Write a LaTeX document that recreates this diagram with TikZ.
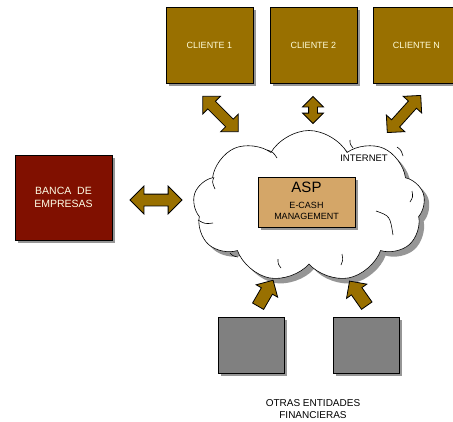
\documentclass[tikz,border=0pt]{standalone}
\usepackage{fontspec}
\setmainfont{Liberation Sans}
\usetikzlibrary{shapes.symbols,shapes.arrows,shadows}
\definecolor{cliente}{RGB}{153,112,0}
\definecolor{banca}{RGB}{128,16,0}
\definecolor{asp}{RGB}{212,166,104}
\definecolor{entidad}{RGB}{128,128,128}
\definecolor{sombra}{RGB}{150,150,150}

\begin{document}
\begin{tikzpicture}[x = 1pt, y = 1pt, line width = 0.8pt,
                        caja/.style = {rectangle, draw, inner sep = 0pt, align = center,
                                       drop shadow = {shadow xshift = 3pt, shadow yshift = -3pt, fill = sombra, opacity = 1}},
                        cliente/.style = {caja, fill = cliente, text = white!85!yellow, minimum width = 87pt, minimum height = 76pt, font = \fontsize{9}{11}\selectfont},
                        entidad/.style = {caja, fill = entidad, minimum width = 66pt, minimum height = 56pt},
                        flecha/.style = {double arrow, draw, fill = cliente, inner sep = 5pt, double arrow head extend = 7pt},
                        subida/.style = {single arrow, draw, fill = cliente, inner sep = 6pt, single arrow head extend = 6pt},
                        pliegue/.style = {line width = 0.6pt}]
      \useasboundingbox (0, 0) rectangle (453, -421);

      \node [cliente] (c1) at (209.5, -45){CLIENTE 1};
      \node [cliente] (c2) at (313.5, -45){CLIENTE 2};
      \node [cliente] (cn) at (416.5, -45){CLIENTE N};

      \node [caja, fill = banca, text = white!90!yellow, minimum width = 97pt, minimum height = 85pt,
             font = \fontsize{10.5}{13}\selectfont] (banca) at (63.5, -197.5){BANCA \ DE\\EMPRESAS};

      \node [cloud, draw, fill = white, cloud puffs = 9, cloud puff arc = 120, aspect = 1.5,
             minimum width = 232pt, minimum height = 152pt, line width = 0.6pt,
             drop shadow = {shadow xshift = 5pt, shadow yshift = -5pt, fill = sombra, opacity = 1}] (internet) at (309, -206.5){};
      % pliegues interiores de la nube
      \draw [pliegue] (214, -177) .. controls (212, -182) .. (215, -189);
      \draw [pliegue] (198, -220) .. controls (205, -224) .. (213, -223);
      \draw [pliegue] (230, -253) .. controls (233, -256) .. (238, -257);
      \draw [pliegue] (278, -259) .. controls (278, -264) .. (281, -268);
      \draw [pliegue] (342, -254) .. controls (343, -260) .. (341, -265);
      \draw [pliegue] (376, -211) .. controls (390, -216) .. (393, -235);
      \draw [pliegue] (410, -202) .. controls (413, -197) .. (412, -191);
      \draw [pliegue] (397, -147) .. controls (401, -150) .. (403, -156);
      \draw [pliegue] (350, -140) .. controls (350, -144) .. (353, -148);
      \draw [pliegue] (267, -150) .. controls (273, -152) .. (277, -158);
      \node [font = \fontsize{9.5}{11}\selectfont] (etiqueta) at (364, -158){INTERNET};

      \node [caja, fill = asp, minimum width = 97pt, minimum height = 50pt] (asp) at (306.5, -202){};
      \node [font = \fontsize{15}{17}\selectfont] (asptitulo) at (306.5, -187){ASP};
      \node [font = \fontsize{9}{10.5}\selectfont, align = center] (asptexto) at (306.5, -211){E-CASH\\MANAGEMENT};

      \node [entidad] (e1) at (251, -345){};
      \node [entidad] (e2) at (366, -345){};
      \node [font = \fontsize{10}{12.5}\selectfont, align = center] (otras) at (313, -409){OTRAS ENTIDADES\\FINANCIERAS};

      \node [flecha, minimum height = 50pt, rotate = -45] (f1) at (220.5, -114){};
      \node [flecha, minimum height = 27pt, rotate = 90, inner sep = 4pt, double arrow head extend = 6pt] (f2) at (313, -110){};
      \node [flecha, minimum height = 50pt, rotate = 48] (fn) at (404, -114){};
      \node [flecha, minimum height = 52pt, inner sep = 5.5pt, double arrow head extend = 8pt] (fb) at (156, -200){};

      \node [subida, minimum height = 30pt, rotate = 60] (s1) at (264, -296){};
      \node [subida, minimum height = 30pt, rotate = 125] (s2) at (360, -296){};
      \end{tikzpicture}
\end{document}
